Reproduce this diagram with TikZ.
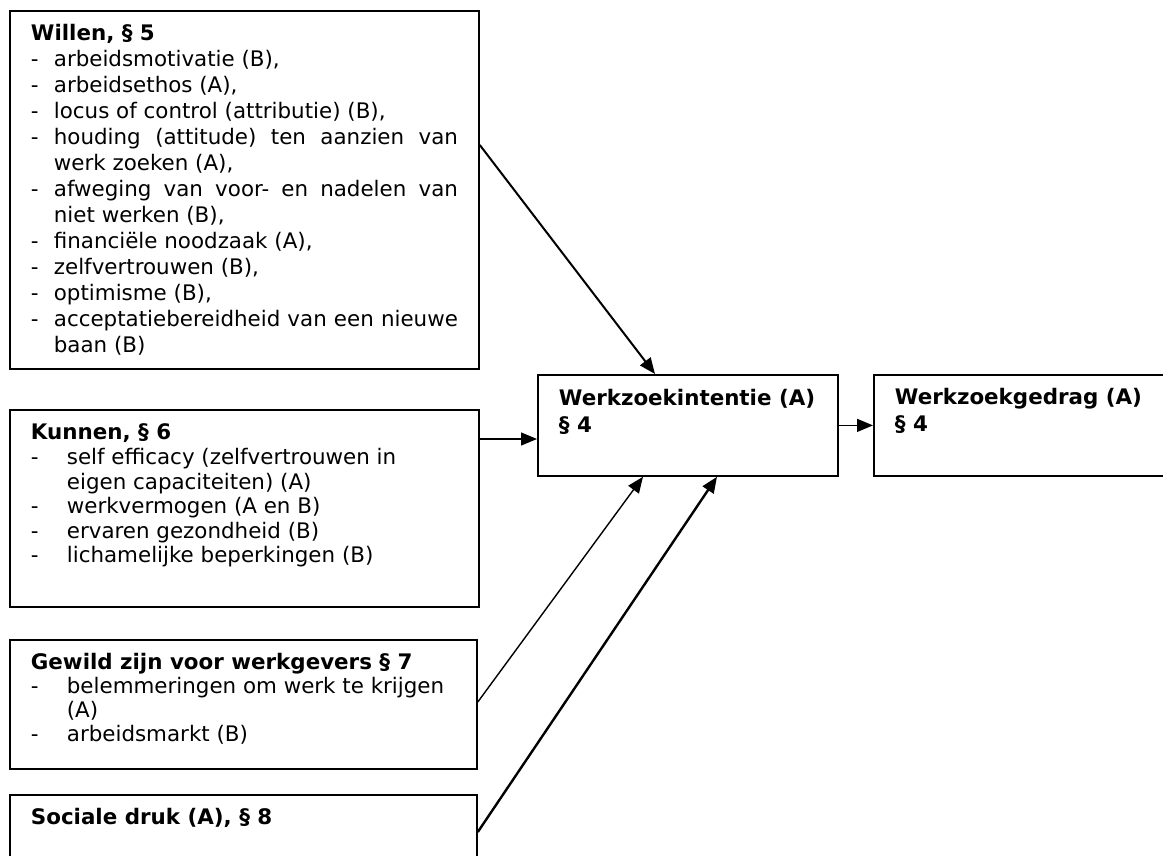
\documentclass[tikz,border=0pt]{standalone}
\usepackage{fontspec}
\setmainfont{DejaVu Sans}
\usetikzlibrary{arrows.meta,calc}

% box contents: width, height, first baseline, text
\newcommand{\boxbody}[4]{\parbox[t][#2][t]{#1}{\leftskip=10.5pt\rightskip=10.5pt\parskip=0pt\parindent=0pt\rule{0pt}{#3}#4\par}}
% one line of a list, with hanging indent
\newcommand{\listline}[2]{\par\hangindent=#1\hangafter=1\makebox[#1][l]{-}#2}

\begin{document}
\begin{tikzpicture}[x=0.5pt, y=-0.5pt,
        box/.style={draw, line width=0.9pt, anchor=north west, inner sep=0pt},
        link/.style={-{Triangle[length=8pt,width=6.5pt]}, line width=0.7pt}]
    \clip (0,0) rectangle (1163,856);

    \node[box, font=\fontsize{10.7}{13}\selectfont] (willen) at (9,10) {\boxbody{234.5pt}{179pt}{15pt}{%
        \textbf{Willen, § 5}
        \listline{11.5pt}{arbeidsmotivatie (B),}
        \listline{11.5pt}{arbeidsethos (A),}
        \listline{11.5pt}{locus of control (attributie) (B),}
        \listline{11.5pt}{houding (attitude) ten aanzien van\linebreak werk zoeken (A),}
        \listline{11.5pt}{afweging van voor- en nadelen van\linebreak niet werken (B),}
        \listline{11.5pt}{financiële noodzaak (A),}
        \listline{11.5pt}{zelfvertrouwen (B),}
        \listline{11.5pt}{optimisme (B),}
        \listline{11.5pt}{acceptatiebereidheid van een nieuwe\linebreak baan (B)}}};
    \node[box, font=\fontsize{10.7}{12.3}\selectfont] (kunnen) at (9,409) {\boxbody{234.5pt}{98.5pt}{15pt}{%
        \textbf{Kunnen, § 6}
        \listline{18pt}{self efficacy (zelfvertrouwen in\\ eigen capaciteiten) (A)}
        \listline{18pt}{werkvermogen (A en B)}
        \listline{18pt}{ervaren gezondheid (B)}
        \listline{18pt}{lichamelijke beperkingen (B)}}};
    \node[box, font=\fontsize{10.7}{12}\selectfont] (gewild) at (9,639) {\boxbody{233.5pt}{64.5pt}{15pt}{%
        \textbf{Gewild zijn voor werkgevers § 7}
        \listline{18pt}{belemmeringen om werk te krijgen\\ (A)}
        \listline{18pt}{arbeidsmarkt (B)}}};
    \node[box, font=\fontsize{10.7}{13}\selectfont] (sociale) at (9,794) {\boxbody{233.5pt}{45pt}{15pt}{%
        \textbf{Sociale druk (A), § 8}}};

    \node[box, font=\fontsize{10.7}{13.5}\selectfont] (intentie) at (537,374) {\boxbody{150pt}{50.5pt}{15.5pt}{%
        \mbox{\textbf{Werkzoekintentie (A)}}\\ \textbf{§ 4}}};
    \node[box, font=\fontsize{10.7}{13.5}\selectfont] (gedrag) at (873,374) {\boxbody{154pt}{50.5pt}{15pt}{%
        \textbf{Werkzoekgedrag (A)}\\ \textbf{§ 4}}};

    % arrows into the intention box
    \coordinate (k1) at ($(kunnen.north east)+(0,30)$);
    \draw[link, line width=1pt] ($(willen.north east)+(0,135)$) -- ($(intentie.north west)+(118,0)$);
    \draw[link] (k1) -- (k1 -| intentie.west);
    \draw[link] ($(gewild.north east)+(0,63)$) -- ($(intentie.south west)+(106,0)$);
    \draw[link, line width=1.2pt] ($(sociale.north east)+(0,38)$) -- ($(intentie.south west)+(180,0)$);
    \draw[link] (intentie.east) -- (intentie.east -| gedrag.west);
\end{tikzpicture}
\end{document}
